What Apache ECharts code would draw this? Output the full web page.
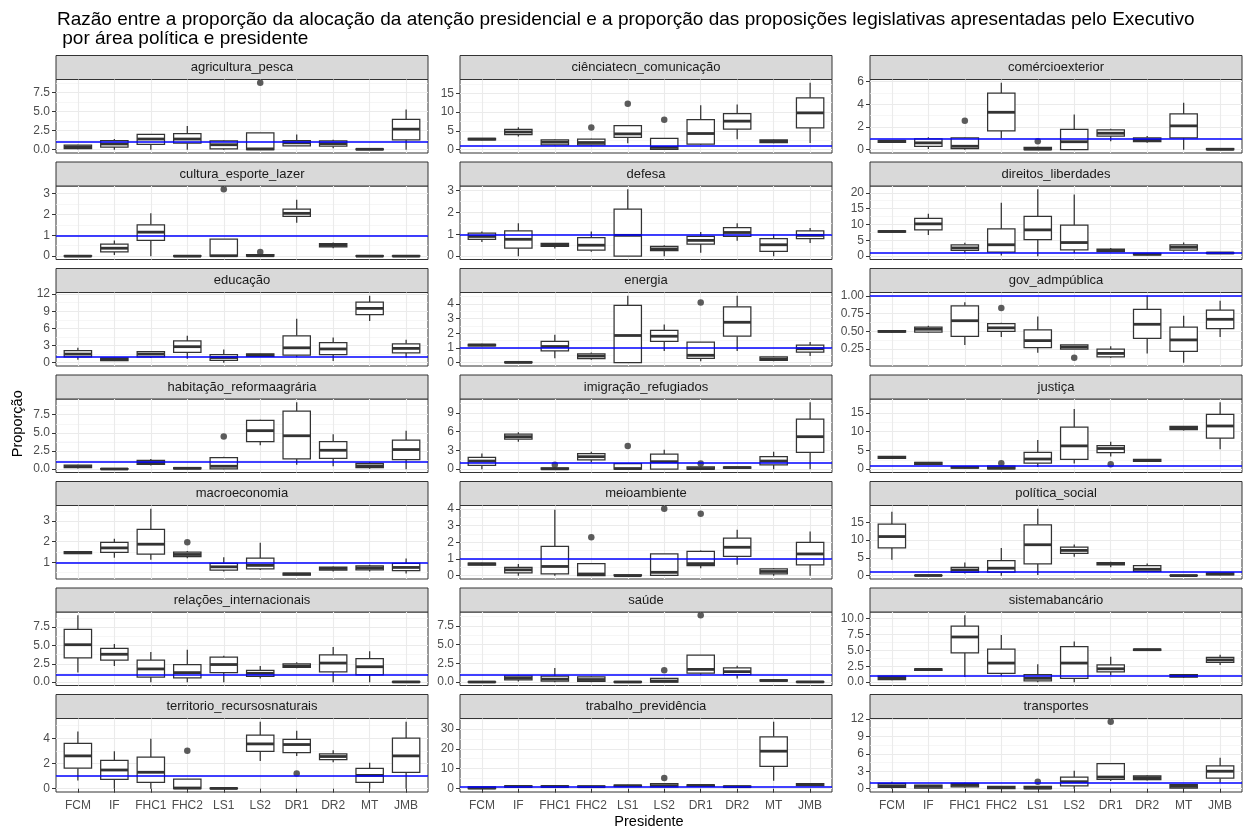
<!DOCTYPE html>
<html>
<head>
<meta charset="utf-8">
<script src="https://cdn.jsdelivr.net/npm/echarts@6/dist/echarts.min.js"></script>
<style>
  html, body { margin: 0; padding: 0; background: #fff; }
  #chart { width: 1249px; height: 829px; }
</style>
</head>
<body>
<div id="chart"></div>
<script>
// Presidents on the x axis of every facet
const presidentes = ['FCM', 'IF', 'FHC1', 'FHC2', 'LS1', 'LS2', 'DR1', 'DR2', 'MT', 'JMB'];

// Box statistics per president: [min whisker, Q1, median, Q3, max whisker]
const agriculturaPescaBox = [[0.05,0.15,0.35,0.6,0.65],[0,0.35,0.75,1.2,1.4],[0,0.7,1.4,2.0,2.0],[0,0.85,1.4,2.1,3.1],[0,0.1,0.65,1.15,1.2],[0,0,0.1,2.2,2.2],[0.5,0.5,0.9,1.2,2.0],[0.2,0.45,0.8,1.15,1.3],[0,0,0.05,0.1,0.1],[0,1.3,2.7,4.0,5.3]];
const agriculturaPescaOut = [['LS2', 8.8]];
const agriculturaPescaTicks = ['0.0', '2.5', '5.0', '7.5'];

const cienciaTecnBox = [[2.5,2.6,2.8,3.0,3.1],[3.5,4.0,4.7,5.4,6.0],[1.1,1.3,2.0,2.6,2.7],[1.1,1.3,1.9,2.8,2.9],[1.7,3.3,4.2,6.4,6.5],[0,0.05,0.6,3.0,3.0],[1.3,1.5,4.3,8.0,11.8],[2.8,5.5,7.6,9.6,12.0],[1.7,1.9,2.2,2.6,2.7],[1.8,5.8,9.8,13.8,17.8]];
const cienciaTecnOut = [['FHC2', 5.9], ['LS1', 12.2], ['LS2', 8.0]];
const cienciaTecnTicks = ['0', '5', '10', '15'];

const comercioExteriorBox = [[0.65,0.65,0.75,0.8,0.85],[0.05,0.3,0.6,0.95,1.1],[0,0.1,0.3,1.05,1.1],[1.0,1.65,3.3,5.0,5.9],[0,0,0.05,0.2,0.25],[0,0,0.7,1.8,3.1],[0.75,1.2,1.45,1.75,1.85],[0.6,0.7,0.85,1.05,1.2],[0,1.05,2.1,3.15,4.15],[0,0,0.03,0.1,0.1]];
const comercioExteriorOut = [['FHC1', 2.55], ['LS1', 0.75]];
const comercioExteriorTicks = ['0', '2', '4', '6'];

const culturaBox = [[0,0,0,0.02,0.02],[0.05,0.2,0.38,0.58,0.75],[0,0.75,1.15,1.5,2.05],[0,0,0,0.02,0.02],[0,0,0.02,0.82,0.82],[0,0,0.02,0.07,0.08],[1.6,1.9,2.05,2.25,2.7],[0.38,0.45,0.52,0.6,0.65],[0,0,0,0.02,0.02],[0,0,0,0.02,0.02]];
const culturaOut = [['LS1', 3.2], ['LS2', 0.2]];
const culturaTicks = ['0', '1', '2', '3'];

const defesaBox = [[0.65,0.77,0.9,1.05,1.12],[0,0.37,0.77,1.15,1.5],[0.35,0.45,0.52,0.58,0.6],[0.2,0.27,0.5,0.85,1.12],[0,0,0.95,2.15,3.05],[0,0.25,0.33,0.45,0.5],[0.15,0.55,0.72,0.9,1.1],[0.7,0.9,1.08,1.3,1.5],[0,0.22,0.52,0.8,1.0],[0.6,0.8,0.95,1.15,1.28]];
const defesaOut = [];
const defesaTicks = ['0', '1', '2', '3'];

const direitosBox = [[7.5,7.6,7.8,8.0,8.1],[6.7,8.3,10.2,11.9,13.4],[1.0,1.8,2.6,3.6,4.2],[0.2,1.3,3.6,8.6,16.9],[0,5.2,8.3,12.6,21.1],[1.0,2.0,4.3,9.8,19.5],[1.2,1.4,1.8,2.2,2.6],[0.3,0.4,0.6,0.9,1.0],[1.2,1.9,2.8,3.6,4.3],[0.8,0.85,1.0,1.15,1.2]];
const direitosOut = [];
const direitosTicks = ['0', '5', '10', '15', '20'];

const educacaoBox = [[0.5,1.0,1.5,2.1,2.6],[0.3,0.35,0.6,0.85,0.9],[0.8,1.0,1.5,1.95,2.0],[0.7,1.8,2.8,3.8,4.7],[0,0.4,0.9,1.4,2.3],[1.0,1.1,1.3,1.55,1.6],[1.0,1.3,2.6,4.7,7.7],[0.3,1.4,2.4,3.5,4.4],[7.3,8.4,9.5,10.6,11.7],[0.9,1.7,2.5,3.3,4.0]];
const educacaoOut = [];
const educacaoTicks = ['0', '3', '6', '9', '12'];

const energiaBox = [[1.12,1.15,1.2,1.25,1.28],[0,0,0.02,0.05,0.05],[0.3,0.8,1.1,1.45,1.9],[0.2,0.28,0.45,0.6,0.7],[0,0,1.85,3.9,4.55],[0.8,1.45,1.8,2.2,2.6],[0.1,0.3,0.5,1.4,1.4],[0.8,1.8,2.75,3.8,4.55],[0.1,0.15,0.25,0.4,0.45],[0.45,0.72,0.95,1.2,1.4]];
const energiaOut = [['DR1', 4.1]];
const energiaTicks = ['0', '1', '2', '3', '4'];

const govBox = [[0.48,0.49,0.5,0.51,0.52],[0.48,0.49,0.53,0.56,0.58],[0.31,0.43,0.65,0.86,0.91],[0.42,0.5,0.55,0.61,0.62],[0.2,0.27,0.37,0.52,0.71],[0.25,0.25,0.28,0.31,0.31],[0.13,0.14,0.19,0.25,0.29],[0.19,0.4,0.6,0.81,1.0],[0.06,0.22,0.38,0.56,0.72],[0.42,0.54,0.67,0.8,0.93]];
const govOut = [['FHC2', 0.83], ['LS2', 0.13]];
const govTicks = ['0.25', '0.50', '0.75', '1.00'];

const habitacaoBox = [[0.1,0.2,0.35,0.55,0.6],[0,0,0.02,0.08,0.1],[0.5,0.65,0.9,1.2,1.4],[0,0.05,0.12,0.2,0.25],[0,0.05,0.4,1.6,1.7],[3.3,3.8,5.3,6.7,6.8],[0.6,1.4,4.6,8.0,9.2],[0.4,1.5,2.6,3.8,4.8],[0.05,0.2,0.45,0.8,0.95],[0,1.3,2.7,4.0,5.3]];
const habitacaoOut = [['LS1', 4.5]];
const habitacaoTicks = ['0.0', '2.5', '5.0', '7.5'];

const imigracaoBox = [[0,0.6,1.3,1.9,2.5],[4.4,4.8,5.2,5.6,5.9],[0,0,0.05,0.2,0.25],[1.1,1.5,2.0,2.5,2.8],[0,0,0.1,0.9,1.0],[0,0,1.2,2.4,3.1],[0,0,0.1,0.35,0.4],[0.1,0.15,0.25,0.35,0.4],[0,0.7,1.3,2.0,2.8],[0,2.7,5.2,8.0,10.7]];
const imigracaoOut = [['FHC1', 0.7], ['LS1', 3.7], ['DR1', 0.9]];
const imigracaoTicks = ['0', '3', '6', '9'];

const justicaBox = [[2.8,2.9,3.1,3.4,3.5],[1.2,1.3,1.55,1.8,1.9],[0.2,0.3,0.5,0.7,0.8],[0,0.05,0.3,0.8,0.9],[0.6,1.6,2.7,4.5,7.8],[1.5,2.6,6.2,11.2,16.0],[3.4,4.4,5.5,6.3,7.3],[2.0,2.1,2.3,2.6,2.7],[10.3,10.5,10.9,11.4,11.5],[5.3,8.3,11.5,14.6,17.8]];
const justicaOut = [['FHC2', 1.6], ['DR1', 1.3]];
const justicaTicks = ['0', '5', '10', '15'];

const macroBox = [[1.4,1.42,1.47,1.52,1.55],[1.22,1.48,1.7,1.97,2.15],[1.12,1.4,1.88,2.6,3.6],[1.2,1.27,1.38,1.5,1.55],[0.55,0.62,0.78,0.95,1.25],[0.62,0.68,0.85,1.2,1.95],[0.35,0.37,0.43,0.47,0.48],[0.55,0.62,0.7,0.77,0.8],[0.55,0.63,0.73,0.82,0.88],[0.45,0.6,0.75,0.95,1.18]];
const macroOut = [['FHC2', 1.98]];
const macroTicks = ['1', '2', '3'];

const meioBox = [[0.6,0.63,0.7,0.75,0.78],[0,0.17,0.35,0.5,0.7],[0,0.1,0.55,1.75,3.95],[0,0,0.1,0.72,0.75],[0,0,0,0.05,0.05],[0,0.02,0.2,1.3,1.3],[0.45,0.6,0.72,1.45,1.5],[0.65,1.15,1.7,2.25,2.75],[0,0.1,0.25,0.4,0.45],[0,0.65,1.3,2.0,2.65]];
const meioOut = [['FHC2', 2.3], ['LS2', 4.0], ['DR1', 3.7]];
const meioTicks = ['0', '1', '2', '3', '4'];

const politicaBox = [[4.5,7.8,11.0,14.5,18.0],[0,0,0.05,0.1,0.1],[0.6,0.9,1.6,2.3,3.7],[0,1.0,2.1,4.2,7.8],[0.2,3.3,8.7,14.3,18.8],[5.3,6.3,7.1,8.0,8.8],[2.4,3.0,3.4,3.7,3.9],[1.0,1.2,1.8,2.8,3.4],[0,0,0.02,0.1,0.1],[0.1,0.2,0.5,0.8,0.9]];
const politicaOut = [];
const politicaTicks = ['0', '5', '10', '15'];

const relacoesBox = [[1.3,3.3,5.1,7.2,9.1],[2.2,3.0,3.8,4.6,5.2],[0,0.7,1.8,3.0,4.1],[0,0.6,1.3,2.4,4.4],[0,1.3,2.4,3.4,3.6],[0.5,0.8,1.2,1.6,2.2],[1.9,2.0,2.2,2.5,2.7],[0,1.4,2.6,3.7,4.8],[0,1.0,2.1,3.2,4.2],[0,0,0.03,0.08,0.1]];
const relacoesOut = [];
const relacoesTicks = ['0.0', '2.5', '5.0', '7.5'];

const saudeBox = [[0,0,0.02,0.05,0.05],[0.1,0.3,0.55,0.85,1.0],[0,0.15,0.4,0.8,1.9],[0,0.1,0.35,0.7,0.75],[0,0,0.02,0.08,0.1],[0,0,0.15,0.5,0.55],[1.0,1.2,1.7,3.6,3.6],[0.5,1.0,1.4,1.9,2.2],[0.1,0.15,0.22,0.3,0.35],[0,0,0.03,0.08,0.1]];
const saudeOut = [['LS2', 1.6], ['DR1', 8.9]];
const saudeTicks = ['0.0', '2.5', '5.0', '7.5'];

const bancarioBox = [[0.3,0.4,0.7,0.95,1.0],[1.8,1.85,2.0,2.1,2.15],[0.8,4.6,7.1,8.8,10.5],[1.0,1.4,3.0,5.2,7.4],[0,0.2,0.6,1.2,2.8],[0,0.6,3.0,5.6,6.4],[1.1,1.6,2.1,2.7,4.0],[4.95,5.0,5.1,5.2,5.25],[0.7,0.8,1.0,1.2,1.3],[2.7,3.1,3.5,3.9,4.3]];
const bancarioOut = [];
const bancarioTicks = ['0.0', '2.5', '5.0', '7.5', '10.0'];

const territorioBox = [[0.64,1.62,2.6,3.6,4.53],[0,0.74,1.48,2.25,2.97],[0,0.5,1.3,2.5,3.95],[0,0,0.05,0.75,0.75],[0,0,0.02,0.05,0.05],[2.2,2.95,3.55,4.25,5.3],[2.6,2.85,3.5,3.9,4.6],[2.1,2.3,2.55,2.75,3.05],[0,0.5,1.05,1.6,2.05],[0,1.3,2.6,4.0,5.3]];
const territorioOut = [['FHC2', 3.0], ['DR1', 1.2]];
const territorioTicks = ['0', '2', '4'];

const trabalhoBox = [[0,0,0.3,0.9,1.0],[0.7,0.8,1.1,1.4,1.5],[0.7,0.8,1.1,1.4,1.5],[0.7,0.8,1.0,1.3,1.4],[1.0,1.1,1.4,1.8,1.9],[0.8,0.9,1.5,2.5,2.7],[1.1,1.2,1.6,1.9,2.0],[0.7,0.8,1.0,1.3,1.4],[4.0,11.2,18.8,26.0,33.5],[1.4,1.5,2.0,2.5,2.6]];
const trabalhoOut = [['LS2', 5.3]];
const trabalhoTicks = ['0', '10', '20', '30'];

const transportesBox = [[0,0.2,0.5,0.9,1.2],[0.05,0.1,0.4,0.6,0.65],[0.2,0.3,0.6,0.9,1.0],[0,0,0.2,0.4,0.45],[0,0,0.1,0.4,0.45],[0,0.5,1.2,2.0,3.1],[1.3,1.6,2.0,4.3,4.4],[1.4,1.55,1.9,2.2,2.3],[0,0.1,0.4,0.7,0.75],[1.0,1.8,3.0,3.9,5.3]];
const transportesOut = [['LS1', 1.2], ['DR1', 11.5]];
const transportesTicks = ['0', '3', '6', '9', '12'];

// Reference ratio drawn in every facet
const razaoReferencia = 1;

// Facet order (facet_wrap, 3 columns)
const facetas = [
  ['agricultura_pesca', agriculturaPescaBox, agriculturaPescaOut, agriculturaPescaTicks],
  ['ciênciatecn_comunicação', cienciaTecnBox, cienciaTecnOut, cienciaTecnTicks],
  ['comércioexterior', comercioExteriorBox, comercioExteriorOut, comercioExteriorTicks],
  ['cultura_esporte_lazer', culturaBox, culturaOut, culturaTicks],
  ['defesa', defesaBox, defesaOut, defesaTicks],
  ['direitos_liberdades', direitosBox, direitosOut, direitosTicks],
  ['educação', educacaoBox, educacaoOut, educacaoTicks],
  ['energia', energiaBox, energiaOut, energiaTicks],
  ['gov_admpública', govBox, govOut, govTicks],
  ['habitação_reformaagrária', habitacaoBox, habitacaoOut, habitacaoTicks],
  ['imigração_refugiados', imigracaoBox, imigracaoOut, imigracaoTicks],
  ['justiça', justicaBox, justicaOut, justicaTicks],
  ['macroeconomia', macroBox, macroOut, macroTicks],
  ['meioambiente', meioBox, meioOut, meioTicks],
  ['política_social', politicaBox, politicaOut, politicaTicks],
  ['relações_internacionais', relacoesBox, relacoesOut, relacoesTicks],
  ['saúde', saudeBox, saudeOut, saudeTicks],
  ['sistemabancário', bancarioBox, bancarioOut, bancarioTicks],
  ['territorio_recursosnaturais', territorioBox, territorioOut, territorioTicks],
  ['trabalho_previdência', trabalhoBox, trabalhoOut, trabalhoTicks],
  ['transportes', transportesBox, transportesOut, transportesTicks]
];

// ---- layout ----
const FONT = "'Liberation Sans', Arial, Helvetica, sans-serif";
const colLeft = [56, 460, 870];
const panelW = 372;
const stripH = 24;
const plotH = 73.5;
const rowTop = 55.5;
const rowPitch = 106.5;
const nRows = 7;

const INK = '#333333';
const GRID_MAJOR = '#EBEBEB';
const GRID_MINOR = '#F2F2F2';

function renderBox(params, api) {
  const x = api.value(0);
  const pMin = api.coord([x, api.value(1)]);
  const pQ1 = api.coord([x, api.value(2)]);
  const pMed = api.coord([x, api.value(3)]);
  const pQ3 = api.coord([x, api.value(4)]);
  const pMax = api.coord([x, api.value(5)]);
  const half = api.size([0.75, 0])[0] / 2;
  const cx = pMed[0];
  const line = { stroke: INK, lineWidth: 1.25 };
  return {
    type: 'group',
    children: [
      { type: 'line', shape: { x1: cx, y1: pMin[1], x2: cx, y2: pQ1[1] }, style: line },
      { type: 'line', shape: { x1: cx, y1: pQ3[1], x2: cx, y2: pMax[1] }, style: line },
      { type: 'rect', shape: { x: cx - half, y: pQ3[1], width: half * 2, height: pQ1[1] - pQ3[1] },
        style: { fill: '#ffffff', stroke: INK, lineWidth: 1.25 } },
      { type: 'line', shape: { x1: cx - half, y1: pMed[1], x2: cx + half, y2: pMed[1] },
        style: { stroke: INK, lineWidth: 2.8 } }
    ]
  };
}

const option = {
  animation: false,
  backgroundColor: '#ffffff',
  textStyle: { fontFamily: FONT },
  title: {
    text: 'Razão entre a proporção da alocação da atenção presidencial e a proporção das proposições legislativas apresentadas pelo Executivo\n por área política e presidente',
    left: 52,
    top: 5,
    textStyle: { fontFamily: FONT, fontSize: 19, fontWeight: 'normal', color: '#000000', lineHeight: 19.5 }
  },
  grid: [],
  xAxis: [],
  yAxis: [],
  series: [],
  graphic: []
};

const posPresidentes = presidentes.map((p, i) => i + 1);

facetas.forEach((f, i) => {
  const [nome, caixas, atipicos, rotulos] = f;
  const r = Math.floor(i / 3);
  const c = i % 3;
  const top = rowTop + r * rowPitch;
  const left = colLeft[c];
  const isBottom = r === nRows - 1;

  option.grid.push({
    left: left, top: top + stripH, width: panelW, height: plotH,
    show: true, borderColor: INK, borderWidth: 1, backgroundColor: '#ffffff', containLabel: false
  });

  // free y scale: data range (including the reference line) expanded by 5%
  const vals = [razaoReferencia];
  caixas.forEach(b => vals.push(...b));
  atipicos.forEach(o => vals.push(o[1]));
  const lo = Math.min(...vals);
  const hi = Math.max(...vals);
  const pad = (hi - lo) * 0.05;
  const yMin = lo - pad;
  const yMax = hi + pad;

  const majors = rotulos.map(Number);
  const step = majors[1] - majors[0];
  const minors = [];
  for (let k = -1; k < majors.length; k++) {
    const v = majors[0] + (k + 0.5) * step;
    if (v > yMin && v < yMax) minors.push(v);
  }

  option.xAxis.push({
    gridIndex: i, type: 'value', min: 0.4, max: 10.6,
    axisLine: { show: false },
    axisTick: { show: isBottom, customValues: posPresidentes, length: 4, lineStyle: { color: INK, width: 1 } },
    axisLabel: {
      show: isBottom, customValues: posPresidentes, margin: 8,
      color: '#4D4D4D', fontSize: 12, fontFamily: FONT,
      formatter: v => presidentes[Math.round(v) - 1] || ''
    },
    splitLine: { show: true, lineStyle: { color: GRID_MAJOR, width: 1.1 } }
  });

  // minor grid
  option.yAxis.push({
    gridIndex: i, type: 'value', min: yMin, max: yMax, position: 'left',
    axisLine: { show: false },
    axisTick: { show: false, customValues: minors },
    axisLabel: { show: false },
    splitLine: { show: true, lineStyle: { color: GRID_MINOR, width: 0.7 } }
  });
  // major grid, ticks and labels
  option.yAxis.push({
    gridIndex: i, type: 'value', min: yMin, max: yMax, position: 'left',
    axisLine: { show: false },
    axisTick: { show: true, customValues: majors, length: 4, lineStyle: { color: INK, width: 1 } },
    axisLabel: {
      show: true, customValues: majors, margin: 6,
      color: '#4D4D4D', fontSize: 12, fontFamily: FONT,
      formatter: v => {
        const t = rotulos.find(s => Math.abs(Number(s) - v) < 1e-9);
        return t === undefined ? '' : t;
      }
    },
    splitLine: { show: true, lineStyle: { color: GRID_MAJOR, width: 1.1 } }
  });

  option.series.push({
    type: 'custom',
    name: nome,
    xAxisIndex: i,
    yAxisIndex: 2 * i + 1,
    data: caixas.map((b, j) => [j + 1, ...b]),
    encode: { x: 0, y: [1, 2, 3, 4, 5] },
    renderItem: renderBox,
    z: 2,
    silent: true
  });

  option.series.push({
    type: 'scatter',
    name: nome + ' atípicos',
    xAxisIndex: i,
    yAxisIndex: 2 * i + 1,
    data: atipicos.map(o => [presidentes.indexOf(o[0]) + 1, o[1]]),
    symbol: 'circle',
    symbolSize: 6.5,
    itemStyle: { color: INK },
    z: 3,
    silent: true,
    markLine: {
      silent: true, symbol: 'none', animation: false,
      label: { show: false },
      lineStyle: { color: '#0000FF', width: 1.5, type: 'solid' },
      data: [{ yAxis: razaoReferencia }]
    }
  });

  // facet strip
  option.graphic.push({
    type: 'group',
    children: [
      { type: 'rect', shape: { x: left, y: top, width: panelW, height: stripH },
        style: { fill: '#D9D9D9', stroke: INK, lineWidth: 1 } },
      { type: 'text', x: left + panelW / 2, y: top + stripH / 2,
        style: { text: nome, fill: '#1A1A1A', font: '13px ' + FONT, align: 'center', verticalAlign: 'middle' } }
    ]
  });
});

// axis titles
option.graphic.push({
  type: 'text', x: 18, y: rowTop + (nRows * rowPitch - (rowPitch - stripH - plotH)) / 2, rotation: Math.PI / 2,
  style: { text: 'Proporção', fill: '#000000', font: '14.5px ' + FONT, align: 'center', verticalAlign: 'middle' }
});
option.graphic.push({
  type: 'text', x: (colLeft[0] + colLeft[2] + panelW) / 2, y: 822,
  style: { text: 'Presidente', fill: '#000000', font: '14.5px ' + FONT, align: 'center', verticalAlign: 'middle' }
});

const chart = echarts.init(document.getElementById('chart'), null, { renderer: 'canvas' });
chart.setOption(option);
</script>
</body>
</html>
